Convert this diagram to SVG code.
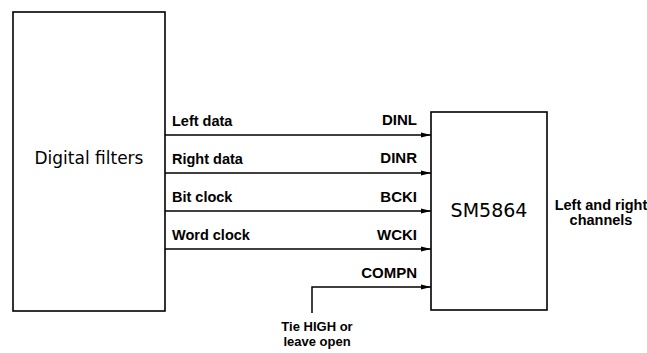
<svg xmlns="http://www.w3.org/2000/svg" width="647" height="353" viewBox="0 0 647 353">
<style>
text{font-family:"Liberation Sans",Arial,sans-serif;fill:#000}
.big{font-family:"DejaVu Sans","Liberation Sans",sans-serif;text-anchor:middle}
.box{fill:#fff;stroke:#000;stroke-width:1.6}
.wire{fill:none;stroke:#000;stroke-width:1.5}
.lbl{font-size:14.5px;font-weight:bold}
.pin{font-size:15px;font-weight:bold;text-anchor:end}
.mid{text-anchor:middle}
.note{font-size:13px;font-weight:bold;text-anchor:middle}
</style>
<defs>
<marker id="arr" markerUnits="userSpaceOnUse" markerWidth="10" markerHeight="6" refX="10" refY="3" orient="auto">
<path d="M0,0.5 L10,3 L0,5.5 Z" fill="#000"/>
</marker>
</defs>
<rect width="647" height="353" fill="#fff"/>
<g id="digital-filters">
<rect class="box" x="13" y="12" width="152" height="299"/>
<text x="89" y="164" font-size="17" class="big">Digital filters</text>
</g>
<g id="sm5864">
<rect class="box" x="431" y="112" width="116" height="198"/>
<text x="489" y="217" font-size="19" class="big">SM5864</text>
</g>
<g id="connectors">
<path class="wire" d="M165,135 H431" marker-end="url(#arr)"/>
<path class="wire" d="M165,173 H431" marker-end="url(#arr)"/>
<path class="wire" d="M165,211 H431" marker-end="url(#arr)"/>
<path class="wire" d="M165,249 H431" marker-end="url(#arr)"/>
<path class="wire" d="M312,313 V287 H431" marker-end="url(#arr)"/>
</g>
<g id="labels">
<text class="lbl" x="172" y="126">Left data</text>
<text class="lbl" x="172" y="164">Right data</text>
<text class="lbl" x="172" y="202">Bit clock</text>
<text class="lbl" x="172" y="240">Word clock</text>
<text class="pin" x="417" y="125">DINL</text>
<text class="pin" x="417" y="163">DINR</text>
<text class="pin" x="417" y="202">BCKI</text>
<text class="pin" x="417" y="240">WCKI</text>
<text class="pin" x="417" y="278">COMPN</text>
<text class="lbl mid" x="601" y="210">Left and right</text>
<text class="lbl mid" x="601" y="225">channels</text>
<text class="note" x="317" y="331">Tie HIGH or</text>
<text class="note" x="317" y="346">leave open</text>
</g>
</svg>
